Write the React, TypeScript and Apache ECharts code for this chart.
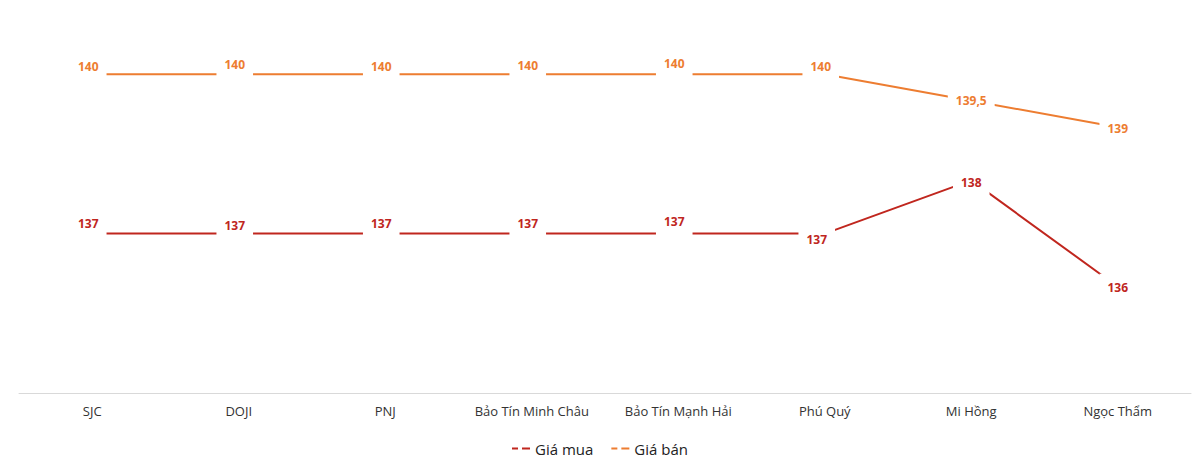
import React, { useEffect, useRef } from 'react';
import * as echarts from 'echarts';

const categories = ['SJC', 'DOJI', 'PNJ', 'Bảo Tín Minh Châu', 'Bảo Tín Mạnh Hải', 'Phú Quý', 'Mi Hồng', 'Ngọc Thẩm'];
const giaMua = [137, 137, 137, 137, 137, 137, 138, 136];
const giaBan = [140, 140, 140, 140, 140, 140, 139.5, 139];

const RED = '#C0261E';
const ORANGE = '#ED7D31';
const FONT = '"Open Sans", "Noto Sans", sans-serif';

const dashIcon = 'path://M0,0h6v2h-6z M10,0h8v2h-8z';

const fmt = (p: any) => String(p.value).replace('.', ',');

// label shift (Excel put the first labels just above the point, the last ones centred)
const buyShift = [[-4, -10], [-4, -8], [-4, -10], [-4, -10], [-4, -12], [-8, 6], [0, 2], [0, 1]];
const sellShift = [[-4, -8], [-4, -10], [-4, -8], [-4, -9], [-4, -11], [-4, -8], [0, 0], [0, 1]];

const App: React.FC = () => {
  const chartRef = useRef<HTMLDivElement>(null);

  useEffect(() => {
    if (!chartRef.current) return;
    const myChart = echarts.init(chartRef.current, undefined, { renderer: 'svg' });

    const labelBase = {
      show: true,
      position: 'inside',
      fontFamily: FONT,
      fontWeight: 'bold',
      fontSize: 12,
      lineHeight: 14,
      backgroundColor: '#fff',
      padding: [6, 8, 8, 8],
      formatter: fmt,
    };

    const option = {
      animation: false,
      grid: { left: 19, right: 9, top: 21, bottom: 69 },
      legend: {
        bottom: 1,
        left: 'center',
        itemWidth: 18,
        itemHeight: 2,
        itemGap: 18,
        textStyle: { fontFamily: FONT, fontSize: 15, color: '#222' },
        data: [
          { name: 'Giá mua', icon: dashIcon, itemStyle: { color: RED } },
          { name: 'Giá bán', icon: dashIcon, itemStyle: { color: ORANGE } },
        ],
      },
      xAxis: {
        type: 'category',
        data: categories,
        boundaryGap: true,
        axisTick: { show: false },
        axisLine: { lineStyle: { color: '#d9d9d9', width: 1 } },
        axisLabel: { interval: 0, margin: 11, fontFamily: FONT, fontSize: 13, color: '#333' },
      },
      yAxis: {
        type: 'value',
        min: 134,
        max: 141,
        show: false,
        splitLine: { show: false },
      },
      series: [
        {
          name: 'Giá mua',
          type: 'line',
          z: 2,
          data: giaMua.map((v, i) => ({
            value: v,
            label: { offset: buyShift[i] },
          })),
          symbol: 'circle',
          symbolSize: 1,
          showSymbol: true,
          itemStyle: { color: 'rgba(0,0,0,0)' },
          lineStyle: { color: RED, width: 2 },
          label: { ...labelBase, color: RED },
        },
        {
          name: 'Giá bán',
          type: 'line',
          z: 2,
          data: giaBan.map((v, i) => ({
            value: v,
            label: { offset: sellShift[i] },
          })),
          symbol: 'circle',
          symbolSize: 1,
          showSymbol: true,
          itemStyle: { color: 'rgba(0,0,0,0)' },
          lineStyle: { color: ORANGE, width: 2 },
          label: { ...labelBase, color: ORANGE },
        },
      ],
    };
    myChart.setOption(option);
    return () => { myChart.dispose(); };
  }, []);

  return <div ref={chartRef} style={{ position: 'fixed', left: 0, top: 0, width: 1200, height: 462, background: '#fff' }} />;
};

export default App;
